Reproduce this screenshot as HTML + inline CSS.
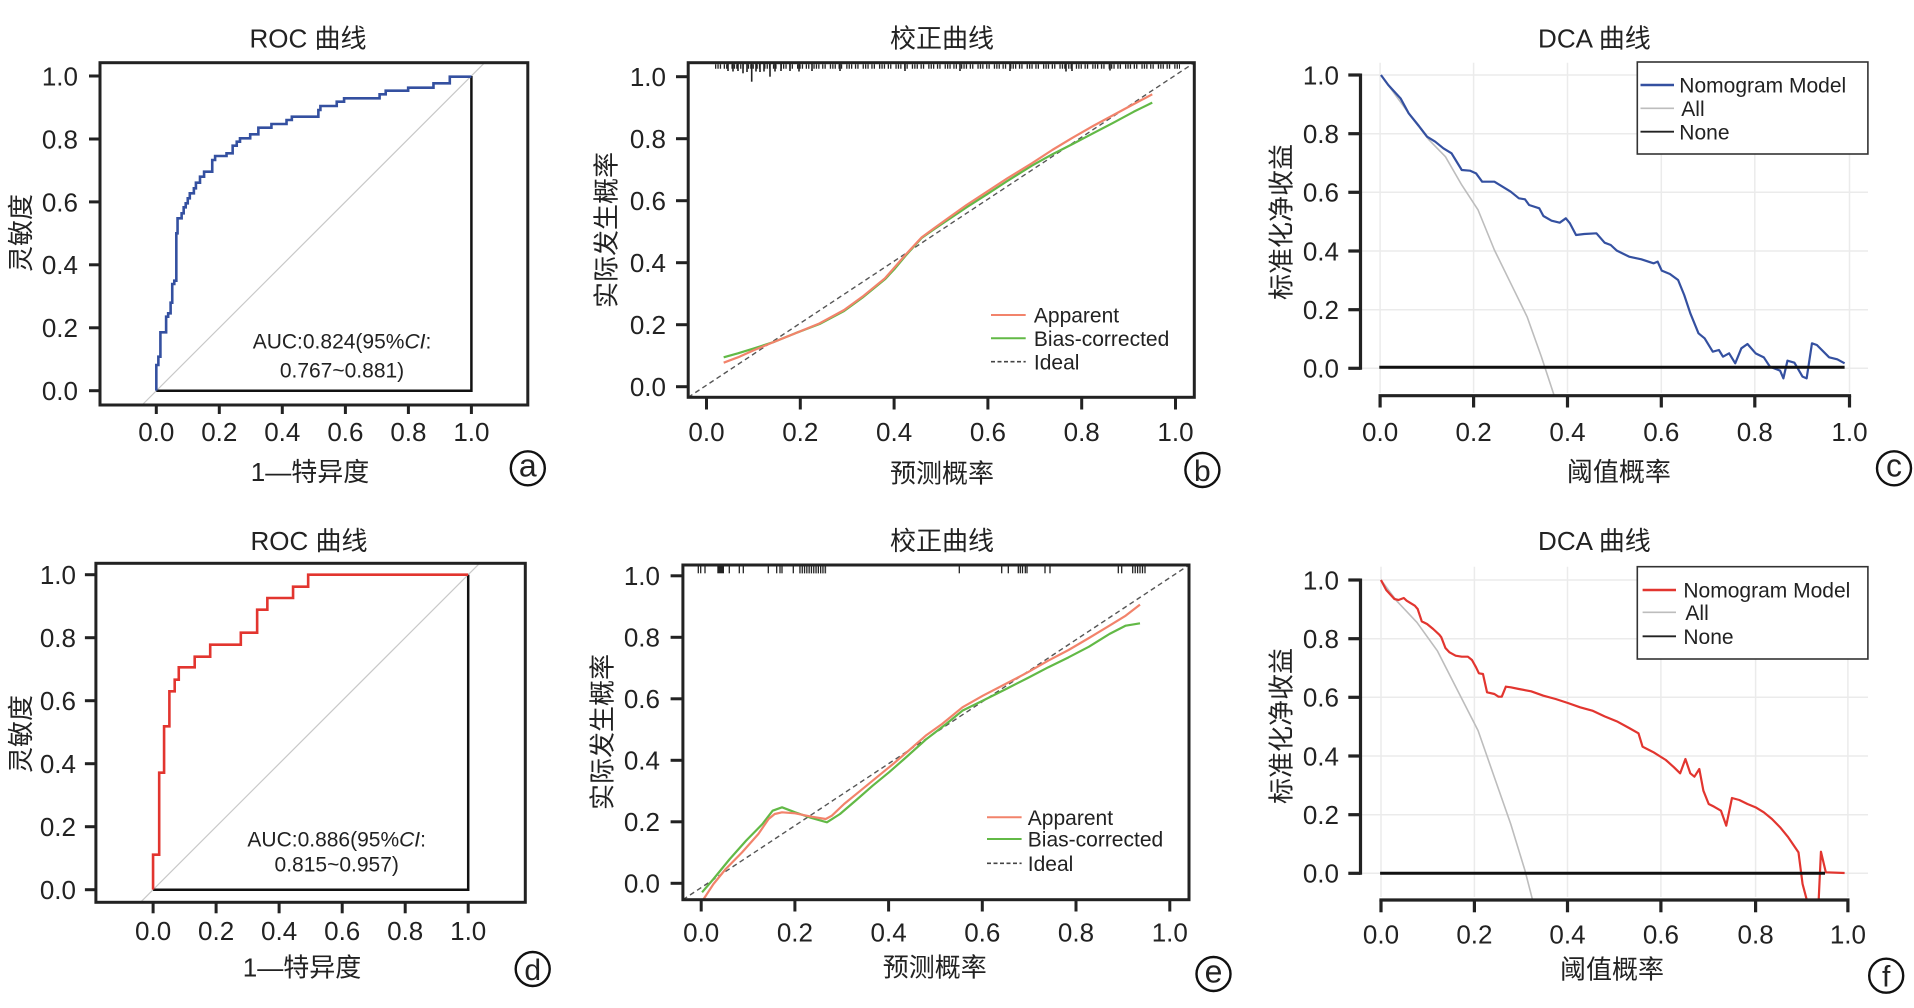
<!DOCTYPE html>
<html><head><meta charset="utf-8"><style>
html,body{margin:0;padding:0;background:#fff;}
svg{display:block;}
text{font-family:"Liberation Sans","Noto Sans CJK SC",sans-serif;fill:#222;}
</style></head><body>
<svg width="1914" height="1008" viewBox="0 0 1914 1008" xmlns="http://www.w3.org/2000/svg">
<rect width="1914" height="1008" fill="#fff"/>
<defs>
<clipPath id="clipc"><rect x="215" y="188" width="1240" height="999"/></clipPath>
<clipPath id="clipf"><rect x="215" y="188" width="1240" height="997"/></clipPath>
</defs>

<!-- ================= Panel a ================= -->
<g font-size="26">
<text x="308" y="47.7" text-anchor="middle">ROC 曲线</text>
<line x1="142.1" y1="405" x2="484.6" y2="62.7" stroke="#c8c8c8" stroke-width="1.2"/>
<polyline points="156.3,390.7 471.4,390.7 471.4,76" fill="none" stroke="#111" stroke-width="2.5"/>
<g transform="translate(0,0) scale(0.408163,0.333333)">
<polyline fill="none" stroke="#3450a0" stroke-width="2.6" vector-effect="non-scaling-stroke" points="383,1172 383,1095 388,1095 388,1070 393,1070 393,997 407,997 407,950 412,950 412,940 418,940 418,908 422,908 422,852 427,852 427,842 432,842 432,700 435,700 435,655 445,655 445,640 450,640 450,622 455,622 455,610 460,610 460,595 465,595 465,580 475,580 475,565 480,565 480,548 490,548 490,530 500,530 500,515 520,515 520,480 527,480 527,468 555,468 555,460 570,460 570,437 580,437 580,425 588,425 588,415 613,415 613,403 633,403 633,383 665,383 665,372 702,372 702,360 715,360 715,350 780,350 780,330 785,330 785,318 825,318 825,305 843,305 843,295 930,295 930,283 945,283 945,272 1000,272 1000,263 1062,263 1062,250 1102,250 1102,230 1155,230"/>
</g>
<rect x="100" y="62.7" width="427.8" height="342.3" fill="none" stroke="#222" stroke-width="3"/>
<g stroke="#222" stroke-width="3">
<line x1="89" y1="76" x2="100" y2="76"/><line x1="89" y1="139" x2="100" y2="139"/><line x1="89" y1="201.9" x2="100" y2="201.9"/><line x1="89" y1="264.8" x2="100" y2="264.8"/><line x1="89" y1="327.8" x2="100" y2="327.8"/><line x1="89" y1="390.7" x2="100" y2="390.7"/>
<line x1="156.3" y1="405" x2="156.3" y2="414"/><line x1="219.3" y1="405" x2="219.3" y2="414"/><line x1="282.3" y1="405" x2="282.3" y2="414"/><line x1="345.4" y1="405" x2="345.4" y2="414"/><line x1="408.4" y1="405" x2="408.4" y2="414"/><line x1="471.4" y1="405" x2="471.4" y2="414"/>
</g>
<g text-anchor="end">
<text x="78" y="85.4">1.0</text><text x="78" y="148.4">0.8</text><text x="78" y="211.3">0.6</text><text x="78" y="274.2">0.4</text><text x="78" y="337.2">0.2</text><text x="78" y="400.1">0.0</text>
</g>
<g text-anchor="middle">
<text x="156.3" y="441">0.0</text><text x="219.3" y="441">0.2</text><text x="282.3" y="441">0.4</text><text x="345.4" y="441">0.6</text><text x="408.4" y="441">0.8</text><text x="471.4" y="441">1.0</text>
<text x="310" y="481">1—特异度</text>
<text transform="translate(20.4,233) rotate(-90)" y="9.4">灵敏度</text>
</g>
<g font-size="21" text-anchor="middle">
<text x="342" y="348.3">AUC:0.824(95%<tspan font-style="italic">CI</tspan>:</text>
<text x="342" y="377.6">0.767~0.881)</text>
</g>
<circle cx="527.8" cy="468.3" r="17" fill="none" stroke="#111" stroke-width="2.4"/>
<text x="527.8" y="476.6" text-anchor="middle" font-size="32">a</text>
</g>

<!-- ================= Panel b ================= -->
<g font-size="26">
<text x="942" y="47.7" text-anchor="middle">校正曲线</text>
<line x1="688.2" y1="397.3" x2="1194.3" y2="62.7" stroke="#555" stroke-width="1.4" stroke-dasharray="5,3.5"/>
<g transform="translate(640,0) scale(0.408163,0.333333)" fill="none" stroke-linejoin="round">
<polyline stroke="#62b946" stroke-width="2.2" vector-effect="non-scaling-stroke" points="205,1072 240,1060 280,1045 330,1025 380,1000 440,972 500,933 545,893 600,838 625,805 650,768 690,714 720,688 760,655 800,622 850,583 900,543 960,497 1010,463 1060,432 1110,400 1160,368 1210,335 1255,308"/>
<polyline stroke="#f2836b" stroke-width="2.2" vector-effect="non-scaling-stroke" points="205,1088 240,1072 280,1050 330,1025 380,1000 440,970 500,930 545,890 600,835 625,800 650,765 690,712 720,685 760,650 800,615 850,575 900,535 960,490 1010,450 1060,413 1110,378 1160,345 1210,312 1255,283"/>
</g>
<!-- rug -->
<line x1="715" y1="66.5" x2="1180" y2="66.5" stroke="#222" stroke-width="4.5" stroke-dasharray="1.3,1.1,1.3,1.1,1.3,2.6,1.3,1.1,1.3,4"/>
<g stroke="#222" stroke-width="1.6">
<line x1="743" y1="64" x2="743" y2="73.3"/><line x1="751.7" y1="64" x2="751.7" y2="81.7"/><line x1="770" y1="64" x2="770" y2="76.7"/>
<line x1="728" y1="64" x2="728" y2="71"/><line x1="733" y1="64" x2="733" y2="71.5"/><line x1="738" y1="64" x2="738" y2="71"/><line x1="747" y1="64" x2="747" y2="72"/><line x1="756" y1="64" x2="756" y2="71.5"/><line x1="760" y1="64" x2="760" y2="72"/><line x1="764" y1="64" x2="764" y2="71.5"/><line x1="775" y1="64" x2="775" y2="71.5"/><line x1="781" y1="64" x2="781" y2="71"/><line x1="790" y1="64" x2="790" y2="71"/><line x1="799" y1="64" x2="799" y2="71.5"/><line x1="812" y1="64" x2="812" y2="71"/><line x1="840" y1="64" x2="840" y2="71"/><line x1="905" y1="64" x2="905" y2="71"/><line x1="960" y1="64" x2="960" y2="71"/><line x1="1010" y1="64" x2="1010" y2="71"/><line x1="1066" y1="64" x2="1066" y2="71.5"/><line x1="1072" y1="64" x2="1072" y2="71"/><line x1="1110" y1="64" x2="1110" y2="70.5"/>
</g>
<rect x="688.2" y="62.7" width="506.1" height="334.6" fill="none" stroke="#222" stroke-width="3"/>
<g stroke="#222" stroke-width="3">
<line x1="676" y1="76.7" x2="688.2" y2="76.7"/><line x1="676" y1="138.7" x2="688.2" y2="138.7"/><line x1="676" y1="200.7" x2="688.2" y2="200.7"/><line x1="676" y1="262.7" x2="688.2" y2="262.7"/><line x1="676" y1="324.7" x2="688.2" y2="324.7"/><line x1="676" y1="386.7" x2="688.2" y2="386.7"/>
<line x1="706.5" y1="398.5" x2="706.5" y2="409.5"/><line x1="800.3" y1="398.5" x2="800.3" y2="409.5"/><line x1="894.1" y1="398.5" x2="894.1" y2="409.5"/><line x1="987.9" y1="398.5" x2="987.9" y2="409.5"/><line x1="1081.7" y1="398.5" x2="1081.7" y2="409.5"/><line x1="1175.5" y1="398.5" x2="1175.5" y2="409.5"/>
</g>
<g text-anchor="end">
<text x="666" y="86.1">1.0</text><text x="666" y="148.1">0.8</text><text x="666" y="210.1">0.6</text><text x="666" y="272.1">0.4</text><text x="666" y="334.1">0.2</text><text x="666" y="396.1">0.0</text>
</g>
<g text-anchor="middle">
<text x="706.5" y="441">0.0</text><text x="800.3" y="441">0.2</text><text x="894.1" y="441">0.4</text><text x="987.9" y="441">0.6</text><text x="1081.7" y="441">0.8</text><text x="1175.5" y="441">1.0</text>
<text x="942" y="482.7">预测概率</text>
<text transform="translate(606,230) rotate(-90)" y="9.4">实际发生概率</text>
</g>
<line x1="991" y1="315" x2="1025.7" y2="315" stroke="#f2836b" stroke-width="2"/>
<line x1="991" y1="338.3" x2="1025.7" y2="338.3" stroke="#62b946" stroke-width="2"/>
<line x1="991" y1="361.7" x2="1025.7" y2="361.7" stroke="#444" stroke-width="1.6" stroke-dasharray="4,2.5"/>
<g font-size="21">
<text x="1033.9" y="322.6">Apparent</text>
<text x="1033.9" y="345.9">Bias-corrected</text>
<text x="1033.9" y="369.3">Ideal</text>
</g>
<circle cx="1202.4" cy="470" r="17" fill="none" stroke="#111" stroke-width="2.4"/>
<text x="1202.4" y="481" text-anchor="middle" font-size="30">b</text>
</g>

<!-- ================= Panel c ================= -->
<g font-size="26">
<text x="1594.4" y="47.7" text-anchor="middle">DCA 曲线</text>
<g stroke="#ebebeb" stroke-width="1.5">
<line x1="1380.1" y1="62.7" x2="1380.1" y2="393"/><line x1="1473.6" y1="62.7" x2="1473.6" y2="393"/><line x1="1567.5" y1="62.7" x2="1567.5" y2="393"/><line x1="1661.3" y1="62.7" x2="1661.3" y2="393"/><line x1="1754.8" y1="62.7" x2="1754.8" y2="393"/><line x1="1849.5" y1="62.7" x2="1849.5" y2="393"/>
<line x1="1362" y1="75" x2="1868" y2="75"/><line x1="1362" y1="133.7" x2="1868" y2="133.7"/><line x1="1362" y1="192.3" x2="1868" y2="192.3"/><line x1="1362" y1="251" x2="1868" y2="251"/><line x1="1362" y1="309.7" x2="1868" y2="309.7"/><line x1="1362" y1="368.3" x2="1868" y2="368.3"/>
</g>
<g transform="translate(1274,0) scale(0.408163,0.333333)" fill="none" stroke-linejoin="round">
<polyline clip-path="url(#clipc)" stroke="#bdbdbd" stroke-width="1.6" vector-effect="non-scaling-stroke" points="262,225 330,340 380,420 420,470 460,555 500,630 540,750 580,850 620,950 655,1070 690,1200"/>
<polyline clip-path="url(#clipc)" stroke="#3450a0" stroke-width="2.2" vector-effect="non-scaling-stroke" points="262,225 280,255 310,295 330,340 355,378 375,410 395,425 415,445 435,460 445,480 460,510 480,512 495,520 510,545 540,545 560,560 580,575 600,595 615,598 625,615 650,625 660,648 680,662 700,668 715,655 725,670 740,705 760,702 790,700 810,728 825,735 840,752 870,770 900,778 930,790 940,785 950,812 970,822 990,840 1005,885 1020,940 1040,1000 1055,1015 1075,1055 1090,1050 1100,1070 1115,1060 1130,1090 1145,1045 1160,1032 1180,1060 1200,1072 1215,1100 1240,1112 1248,1135 1258,1082 1275,1088 1295,1130 1305,1135 1318,1030 1330,1035 1360,1072 1380,1078 1398,1090"/>
</g>
<line x1="1379.3" y1="367.3" x2="1844.6" y2="367.3" stroke="#111" stroke-width="3"/>
<g stroke="#222" stroke-width="3.2">
<line x1="1360.5" y1="73.5" x2="1360.5" y2="369.8"/>
<line x1="1348.3" y1="75" x2="1360.5" y2="75"/><line x1="1348.3" y1="133.7" x2="1360.5" y2="133.7"/><line x1="1348.3" y1="192.3" x2="1360.5" y2="192.3"/><line x1="1348.3" y1="251" x2="1360.5" y2="251"/><line x1="1348.3" y1="309.7" x2="1360.5" y2="309.7"/><line x1="1348.3" y1="368.3" x2="1360.5" y2="368.3"/>
<line x1="1378.5" y1="395.7" x2="1851.1" y2="395.7"/>
<line x1="1380.1" y1="395.7" x2="1380.1" y2="407.5"/><line x1="1473.6" y1="395.7" x2="1473.6" y2="407.5"/><line x1="1567.5" y1="395.7" x2="1567.5" y2="407.5"/><line x1="1661.3" y1="395.7" x2="1661.3" y2="407.5"/><line x1="1754.8" y1="395.7" x2="1754.8" y2="407.5"/><line x1="1849.5" y1="395.7" x2="1849.5" y2="407.5"/>
</g>
<g text-anchor="end">
<text x="1339" y="84.4">1.0</text><text x="1339" y="143.1">0.8</text><text x="1339" y="201.7">0.6</text><text x="1339" y="260.4">0.4</text><text x="1339" y="319.1">0.2</text><text x="1339" y="377.7">0.0</text>
</g>
<g text-anchor="middle">
<text x="1380.1" y="441">0.0</text><text x="1473.6" y="441">0.2</text><text x="1567.5" y="441">0.4</text><text x="1661.3" y="441">0.6</text><text x="1754.8" y="441">0.8</text><text x="1849.5" y="441">1.0</text>
<text x="1618.9" y="481">阈值概率</text>
<text transform="translate(1281,222) rotate(-90)" y="9.4">标准化净收益</text>
</g>
<rect x="1637.3" y="62" width="230.6" height="92" fill="#fff" stroke="#333" stroke-width="1.6"/>
<line x1="1640.5" y1="85" x2="1674" y2="85" stroke="#3450a0" stroke-width="2.4"/>
<line x1="1640.5" y1="108.3" x2="1674" y2="108.3" stroke="#bdbdbd" stroke-width="1.6"/>
<line x1="1640.5" y1="131.7" x2="1674" y2="131.7" stroke="#222" stroke-width="1.8"/>
<g font-size="21">
<text x="1679.3" y="92.6">Nomogram Model</text>
<text x="1681.3" y="115.9">All</text>
<text x="1679.3" y="139.3">None</text>
</g>
<circle cx="1894" cy="468.3" r="17" fill="none" stroke="#111" stroke-width="2.4"/>
<text x="1894" y="476.6" text-anchor="middle" font-size="32">c</text>
</g>

<!-- ================= Panel d ================= -->
<g font-size="26">
<text x="309" y="550.1" text-anchor="middle">ROC 曲线</text>
<line x1="140.5" y1="902.3" x2="479.6" y2="563.3" stroke="#c8c8c8" stroke-width="1.2"/>
<polyline points="153.1,889.7 468.2,889.7 468.2,574.7" fill="none" stroke="#111" stroke-width="2.5"/>
<g transform="translate(0,504) scale(0.408163,0.333333)">
<polyline fill="none" stroke="#e2352f" stroke-width="2.6" vector-effect="non-scaling-stroke" points="375,1157 375,1052 390,1052 390,806 402,806 402,667 415,667 415,562 428,562 428,527 438,527 438,490 477,490 477,458 515,458 515,422 590,422 590,386 630,386 630,317 655,317 655,282 718,282 718,248 755,248 755,212 1147,212"/>
</g>
<rect x="95.9" y="563.3" width="429.4" height="339" fill="none" stroke="#222" stroke-width="3"/>
<g stroke="#222" stroke-width="3">
<line x1="84.9" y1="574.7" x2="95.9" y2="574.7"/><line x1="84.9" y1="637.7" x2="95.9" y2="637.7"/><line x1="84.9" y1="700.7" x2="95.9" y2="700.7"/><line x1="84.9" y1="763.7" x2="95.9" y2="763.7"/><line x1="84.9" y1="826.7" x2="95.9" y2="826.7"/><line x1="84.9" y1="889.7" x2="95.9" y2="889.7"/>
<line x1="153.1" y1="902.3" x2="153.1" y2="913.3"/><line x1="216.1" y1="902.3" x2="216.1" y2="913.3"/><line x1="279.1" y1="902.3" x2="279.1" y2="913.3"/><line x1="342.2" y1="902.3" x2="342.2" y2="913.3"/><line x1="405.2" y1="902.3" x2="405.2" y2="913.3"/><line x1="468.2" y1="902.3" x2="468.2" y2="913.3"/>
</g>
<g text-anchor="end">
<text x="76" y="584.1">1.0</text><text x="76" y="647.1">0.8</text><text x="76" y="710.1">0.6</text><text x="76" y="773.1">0.4</text><text x="76" y="836.1">0.2</text><text x="76" y="899.1">0.0</text>
</g>
<g text-anchor="middle">
<text x="153.1" y="940.1">0.0</text><text x="216.1" y="940.1">0.2</text><text x="279.1" y="940.1">0.4</text><text x="342.2" y="940.1">0.6</text><text x="405.2" y="940.1">0.8</text><text x="468.2" y="940.1">1.0</text>
<text x="302" y="976.7">1—特异度</text>
<text transform="translate(20.4,734) rotate(-90)" y="9.4">灵敏度</text>
</g>
<g font-size="21" text-anchor="middle">
<text x="336.7" y="846.6">AUC:0.886(95%<tspan font-style="italic">CI</tspan>:</text>
<text x="336.7" y="871.6">0.815~0.957)</text>
</g>
<circle cx="532.7" cy="969" r="17" fill="none" stroke="#111" stroke-width="2.4"/>
<text x="532.7" y="980" text-anchor="middle" font-size="30">d</text>
</g>

<!-- ================= Panel e ================= -->
<g font-size="26">
<text x="942" y="550.1" text-anchor="middle">校正曲线</text>
<line x1="682.9" y1="899.7" x2="1189" y2="565" stroke="#555" stroke-width="1.4" stroke-dasharray="5,3.5"/>
<g transform="translate(640,504) scale(0.408163,0.333333)" fill="none" stroke-linejoin="round">
<polyline stroke="#62b946" stroke-width="2.2" vector-effect="non-scaling-stroke" points="152,1165 180,1125 220,1065 260,1010 300,960 325,920 348,910 380,925 420,942 458,955 490,930 530,888 570,845 610,805 650,762 700,707 750,660 790,620 840,590 900,553 950,522 1000,490 1050,460 1100,428 1150,390 1190,365 1225,358"/>
<polyline stroke="#f2836b" stroke-width="2.2" vector-effect="non-scaling-stroke" points="156,1185 180,1140 210,1095 250,1045 290,990 315,945 330,930 348,925 380,928 420,938 455,945 470,935 500,900 540,860 580,820 620,780 660,738 700,695 740,660 790,610 840,575 900,537 950,505 1000,470 1050,438 1100,402 1150,365 1190,335 1225,302"/>
</g>
<!-- rug -->
<g stroke="#222" stroke-width="1.3">
<line x1="698.3" y1="565" x2="698.3" y2="573.3"/><line x1="700.7" y1="565" x2="700.7" y2="573.3"/><line x1="705" y1="565" x2="705" y2="573.3"/>
<line x1="729.3" y1="565" x2="729.3" y2="573.3"/><line x1="739.3" y1="565" x2="739.3" y2="573.3"/><line x1="743.3" y1="565" x2="743.3" y2="573.3"/>
<line x1="768.3" y1="565" x2="768.3" y2="573.3"/><line x1="776.7" y1="565" x2="776.7" y2="573.3"/><line x1="780" y1="565" x2="780" y2="573.3"/><line x1="782" y1="565" x2="782" y2="573.3"/><line x1="793.3" y1="565" x2="793.3" y2="573.3"/>
<line x1="959.3" y1="565" x2="959.3" y2="573.3"/><line x1="1001.7" y1="565" x2="1001.7" y2="573.3"/><line x1="1008.3" y1="565" x2="1008.3" y2="573.3"/>
<line x1="1018.3" y1="565" x2="1018.3" y2="573.3"/><line x1="1020.3" y1="565" x2="1020.3" y2="573.3"/><line x1="1022.5" y1="565" x2="1022.5" y2="573.3"/><line x1="1025.3" y1="565" x2="1025.3" y2="573.3"/><line x1="1027" y1="565" x2="1027" y2="573.3"/>
<line x1="1045" y1="565" x2="1045" y2="573.3"/><line x1="1050" y1="565" x2="1050" y2="573.3"/>
<line x1="1118.3" y1="565" x2="1118.3" y2="573.3"/><line x1="1121.7" y1="565" x2="1121.7" y2="573.3"/>
<line x1="1132.7" y1="565" x2="1132.7" y2="573.3"/><line x1="1135.2" y1="565" x2="1135.2" y2="573.3"/><line x1="1137.6" y1="565" x2="1137.6" y2="573.3"/><line x1="1140" y1="565" x2="1140" y2="573.3"/><line x1="1142.5" y1="565" x2="1142.5" y2="573.3"/><line x1="1145" y1="565" x2="1145" y2="573.3"/>
</g>
<rect x="717.3" y="565" width="6.7" height="8.3" fill="#222"/>
<line x1="799.3" y1="569.2" x2="827" y2="569.2" stroke="#222" stroke-width="8.3" stroke-dasharray="1.3,1"/>
<rect x="682.9" y="565" width="506.1" height="334.7" fill="none" stroke="#222" stroke-width="3"/>
<g stroke="#222" stroke-width="3">
<line x1="670.6" y1="575.8" x2="682.9" y2="575.8"/><line x1="670.6" y1="637.3" x2="682.9" y2="637.3"/><line x1="670.6" y1="698.8" x2="682.9" y2="698.8"/><line x1="670.6" y1="760.3" x2="682.9" y2="760.3"/><line x1="670.6" y1="821.8" x2="682.9" y2="821.8"/><line x1="670.6" y1="883.3" x2="682.9" y2="883.3"/>
<line x1="701.2" y1="900.5" x2="701.2" y2="911.5"/><line x1="794.9" y1="900.5" x2="794.9" y2="911.5"/><line x1="888.6" y1="900.5" x2="888.6" y2="911.5"/><line x1="982.3" y1="900.5" x2="982.3" y2="911.5"/><line x1="1076" y1="900.5" x2="1076" y2="911.5"/><line x1="1169.8" y1="900.5" x2="1169.8" y2="911.5"/>
</g>
<g text-anchor="end">
<text x="660" y="585.2">1.0</text><text x="660" y="646.7">0.8</text><text x="660" y="708.2">0.6</text><text x="660" y="769.7">0.4</text><text x="660" y="831.2">0.2</text><text x="660" y="892.7">0.0</text>
</g>
<g text-anchor="middle">
<text x="701.2" y="941.7">0.0</text><text x="794.9" y="941.7">0.2</text><text x="888.6" y="941.7">0.4</text><text x="982.3" y="941.7">0.6</text><text x="1076" y="941.7">0.8</text><text x="1169.8" y="941.7">1.0</text>
<text x="934.7" y="976.7">预测概率</text>
<text transform="translate(602,732) rotate(-90)" y="9.4">实际发生概率</text>
</g>
<line x1="987" y1="817.3" x2="1021.6" y2="817.3" stroke="#f2836b" stroke-width="2"/>
<line x1="987" y1="839" x2="1021.6" y2="839" stroke="#62b946" stroke-width="2"/>
<line x1="987" y1="863.3" x2="1021.6" y2="863.3" stroke="#444" stroke-width="1.6" stroke-dasharray="4,2.5"/>
<g font-size="21">
<text x="1027.8" y="824.9">Apparent</text>
<text x="1027.8" y="846.6">Bias-corrected</text>
<text x="1027.8" y="870.9">Ideal</text>
</g>
<circle cx="1213.5" cy="974" r="17" fill="none" stroke="#111" stroke-width="2.4"/>
<text x="1213.5" y="982.3" text-anchor="middle" font-size="32">e</text>
</g>

<!-- ================= Panel f ================= -->
<g font-size="26">
<text x="1594.4" y="550.1" text-anchor="middle">DCA 曲线</text>
<g stroke="#ebebeb" stroke-width="1.5">
<line x1="1381" y1="566.7" x2="1381" y2="897"/><line x1="1474.4" y1="566.7" x2="1474.4" y2="897"/><line x1="1567.5" y1="566.7" x2="1567.5" y2="897"/><line x1="1660.9" y1="566.7" x2="1660.9" y2="897"/><line x1="1755.6" y1="566.7" x2="1755.6" y2="897"/><line x1="1847.9" y1="566.7" x2="1847.9" y2="897"/>
<line x1="1362" y1="580" x2="1868" y2="580"/><line x1="1362" y1="638.7" x2="1868" y2="638.7"/><line x1="1362" y1="697.3" x2="1868" y2="697.3"/><line x1="1362" y1="756" x2="1868" y2="756"/><line x1="1362" y1="814.7" x2="1868" y2="814.7"/><line x1="1362" y1="873.3" x2="1868" y2="873.3"/>
</g>
<g transform="translate(1274,504) scale(0.408163,0.333333)" fill="none" stroke-linejoin="round">
<polyline clip-path="url(#clipf)" stroke="#bdbdbd" stroke-width="1.6" vector-effect="non-scaling-stroke" points="262,228 300,290 350,355 400,440 450,560 500,680 540,820 580,960 615,1100 636,1200"/>
<polyline clip-path="url(#clipf)" stroke="#e2352f" stroke-width="2.2" vector-effect="non-scaling-stroke" points="262,228 275,258 295,285 305,288 318,282 325,290 345,305 352,315 362,352 375,360 390,375 405,392 410,400 420,432 430,445 445,455 460,458 475,458 485,468 495,490 502,508 512,510 522,565 540,570 550,578 558,578 568,548 580,550 600,555 630,562 660,575 690,585 720,597 750,610 780,620 810,637 840,652 870,672 893,688 903,728 930,745 960,768 980,790 995,808 1008,765 1020,808 1030,818 1042,795 1052,860 1065,900 1078,908 1095,920 1108,965 1122,882 1140,888 1160,900 1180,910 1200,925 1220,945 1240,970 1260,1000 1285,1045 1295,1140 1308,1200 1334,1200 1340,1043 1352,1105 1398,1107"/>
</g>
<line x1="1380.1" y1="873.3" x2="1825" y2="873.3" stroke="#111" stroke-width="3"/>
<g stroke="#222" stroke-width="3.2">
<line x1="1360.5" y1="578.5" x2="1360.5" y2="874.8"/>
<line x1="1348.3" y1="580" x2="1360.5" y2="580"/><line x1="1348.3" y1="638.7" x2="1360.5" y2="638.7"/><line x1="1348.3" y1="697.3" x2="1360.5" y2="697.3"/><line x1="1348.3" y1="756" x2="1360.5" y2="756"/><line x1="1348.3" y1="814.7" x2="1360.5" y2="814.7"/><line x1="1348.3" y1="873.3" x2="1360.5" y2="873.3"/>
<line x1="1379.4" y1="900" x2="1849.5" y2="900"/>
<line x1="1381" y1="900" x2="1381" y2="912.3"/><line x1="1474.4" y1="900" x2="1474.4" y2="912.3"/><line x1="1567.5" y1="900" x2="1567.5" y2="912.3"/><line x1="1660.9" y1="900" x2="1660.9" y2="912.3"/><line x1="1755.6" y1="900" x2="1755.6" y2="912.3"/><line x1="1847.9" y1="900" x2="1847.9" y2="912.3"/>
</g>
<g text-anchor="end">
<text x="1339" y="589.4">1.0</text><text x="1339" y="648.1">0.8</text><text x="1339" y="706.7">0.6</text><text x="1339" y="765.4">0.4</text><text x="1339" y="824.1">0.2</text><text x="1339" y="882.7">0.0</text>
</g>
<g text-anchor="middle">
<text x="1381" y="943.4">0.0</text><text x="1474.4" y="943.4">0.2</text><text x="1567.5" y="943.4">0.4</text><text x="1660.9" y="943.4">0.6</text><text x="1755.6" y="943.4">0.8</text><text x="1847.9" y="943.4">1.0</text>
<text x="1612" y="978.4">阈值概率</text>
<text transform="translate(1281,726) rotate(-90)" y="9.4">标准化净收益</text>
</g>
<rect x="1637.3" y="566.7" width="230.6" height="92.3" fill="#fff" stroke="#333" stroke-width="1.6"/>
<line x1="1642.6" y1="590" x2="1676" y2="590" stroke="#e2352f" stroke-width="2.4"/>
<line x1="1642.6" y1="612.3" x2="1676" y2="612.3" stroke="#bdbdbd" stroke-width="1.6"/>
<line x1="1642.6" y1="636.3" x2="1676" y2="636.3" stroke="#222" stroke-width="1.8"/>
<g font-size="21">
<text x="1683.4" y="597.6">Nomogram Model</text>
<text x="1685.4" y="619.9">All</text>
<text x="1683.4" y="643.9">None</text>
</g>
<circle cx="1886.2" cy="975.7" r="17" fill="none" stroke="#111" stroke-width="2.4"/>
<text x="1886.2" y="986.7" text-anchor="middle" font-size="30">f</text>
</g>
</svg>
</body></html>
